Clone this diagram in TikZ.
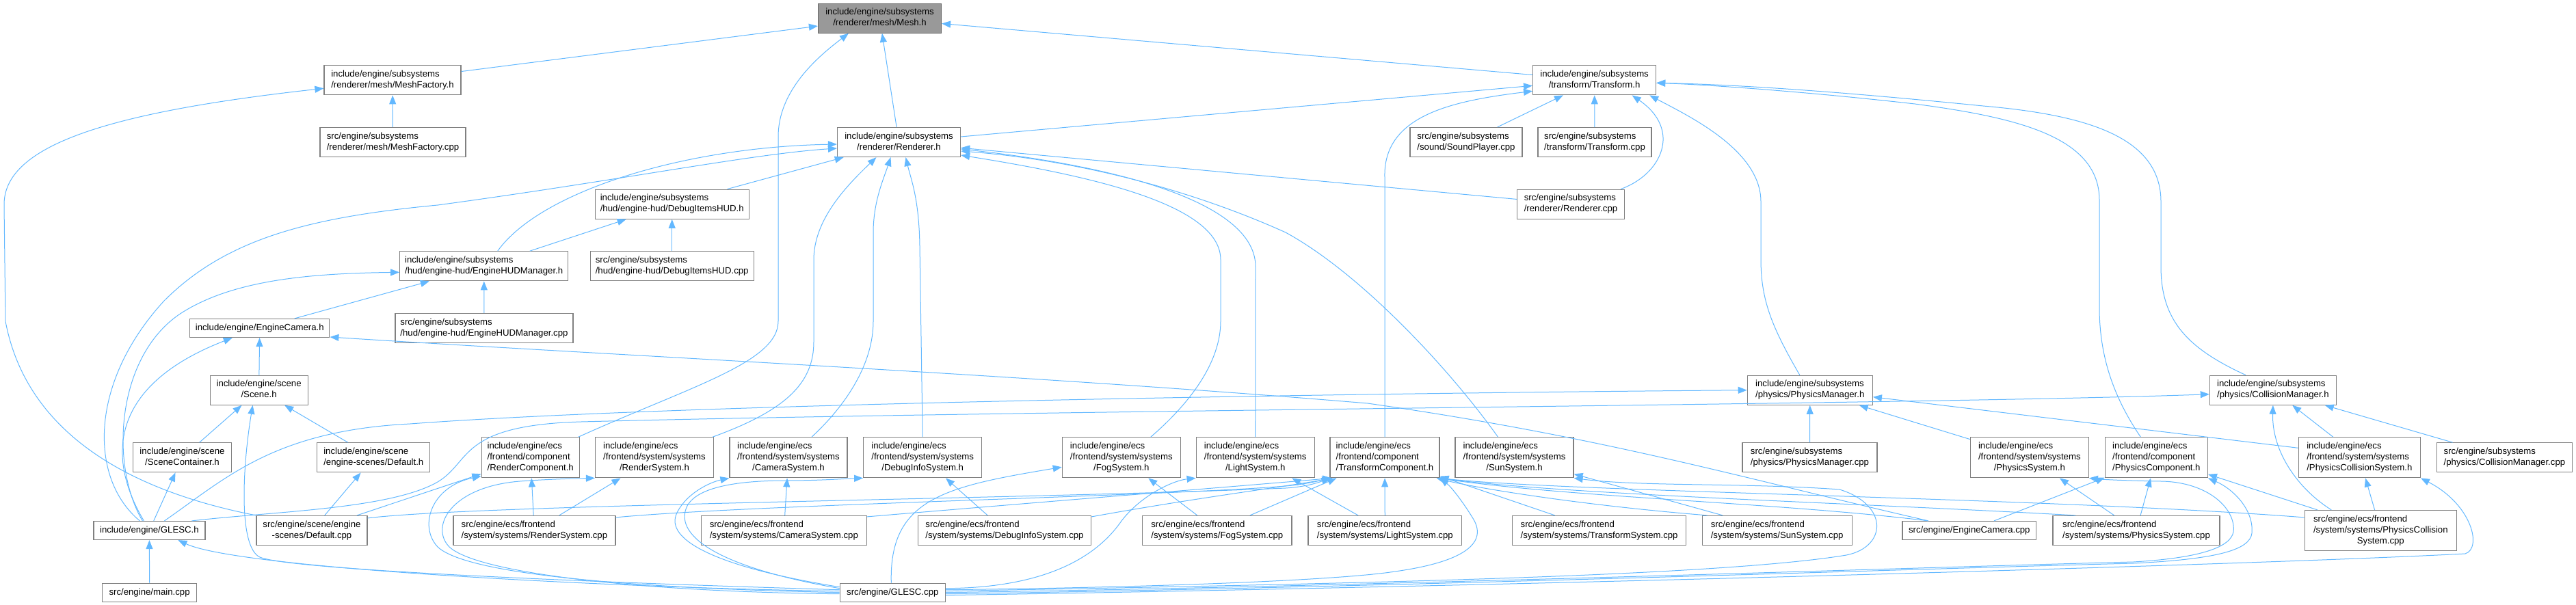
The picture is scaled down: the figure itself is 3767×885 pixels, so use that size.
\documentclass[tikz,border=0pt]{standalone}
\usepackage{fontspec}
\setmainfont{Liberation Sans}
\usepackage{tikz}
\usetikzlibrary{arrows.meta}
\definecolor{depblue}{HTML}{63B8FF}
\definecolor{boxline}{HTML}{808080}
\definecolor{rootgray}{HTML}{999999}
\definecolor{rootline}{HTML}{666666}
% all lines but the last flush left, the last one centred
\newcommand{\dlab}[2]{\begin{tabular}{@{}l@{}}#1\\\multicolumn{1}{@{}c@{}}{#2}\end{tabular}}

\begin{document}
\begin{tikzpicture}[
    x=1pt, y=-1pt,
    file/.style={draw=boxline, fill=white, line width=1.2pt, inner sep=0pt, font=\fontsize{13.2}{16}\selectfont},
    root/.style={file, draw=rootline, fill=rootgray},
    tall1/.style={minimum height=27pt},
    tall2/.style={minimum height=43pt},
    tall3/.style={minimum height=59pt},
    dep/.style={draw=depblue, line width=1pt, -{Triangle[length=13pt,width=10pt]}}
]
    \useasboundingbox (0,0) rectangle (3767,885);

    % Top rows: mesh, renderer, transform
    \node[root, tall2, minimum width=180pt] (mesh) at (1286.5,26.7) {\dlab{include/engine/subsystems}{/renderer/mesh/Mesh.h}};
    \node[file, tall2, minimum width=200pt] (meshfac) at (574,117.3) {\dlab{include/engine/subsystems}{/renderer/mesh/MeshFactory.h}};
    \node[file, tall2, minimum width=180pt] (transform) at (2331.6,117.3) {\dlab{include/engine/subsystems}{/transform/Transform.h}};
    \node[file, tall2, minimum width=213pt] (meshfaccpp) at (574.5,208) {\dlab{src/engine/subsystems}{/renderer/mesh/MeshFactory.cpp}};
    \node[file, tall2, minimum width=180pt] (renderer) at (1314.5,208) {\dlab{include/engine/subsystems}{/renderer/Renderer.h}};
    \node[file, tall2, minimum width=164pt] (soundcpp) at (2144,208) {\dlab{src/engine/subsystems}{/sound/SoundPlayer.cpp}};
    \node[file, tall2, minimum width=166pt] (transformcpp) at (2332,208) {\dlab{src/engine/subsystems}{/transform/Transform.cpp}};
    \node[file, tall2, minimum width=225pt] (debughud) at (982.7,298.7) {\dlab{include/engine/subsystems}{/hud/engine-hud/DebugItemsHUD.h}};
    \node[file, tall2, minimum width=157pt] (renderercpp) at (2297,298.7) {\dlab{src/engine/subsystems}{/renderer/Renderer.cpp}};
    \node[file, tall2, minimum width=246pt] (hudmgr) at (707.7,389.3) {\dlab{include/engine/subsystems}{/hud/engine-hud/EngineHUDManager.h}};
    \node[file, tall2, minimum width=239pt] (debughudcpp) at (982.7,389.3) {\dlab{src/engine/subsystems}{/hud/engine-hud/DebugItemsHUD.cpp}};
    \node[file, tall1, minimum width=204pt] (camera) at (379.8,480) {include/engine/EngineCamera.h};
    \node[file, tall2, minimum width=260pt] (hudmgrcpp) at (708,480) {\dlab{src/engine/subsystems}{/hud/engine-hud/EngineHUDManager.cpp}};

    % Scenes and physics managers
    \node[file, tall2, minimum width=143pt] (scene) at (378.6,570.7) {\dlab{include/engine/scene}{/Scene.h}};
    \node[file, tall2, minimum width=183pt] (physmgr) at (2646.8,570.7) {\dlab{include/engine/subsystems}{/physics/PhysicsManager.h}};
    \node[file, tall2, minimum width=185pt] (collmgr) at (3323.9,570.7) {\dlab{include/engine/subsystems}{/physics/CollisionManager.h}};
    \node[file, tall2, minimum width=144pt] (scenecont) at (266.5,669.3) {\dlab{include/engine/scene}{/SceneContainer.h}};
    \node[file, tall2, minimum width=165pt] (defaulth) at (546.3,669.3) {\dlab{include/engine/scene}{/engine-scenes/Default.h}};
    \node[file, tall2, minimum width=197pt] (physmgrcpp) at (2646.5,669.3) {\dlab{src/engine/subsystems}{/physics/PhysicsManager.cpp}};
    \node[file, tall2, minimum width=198pt] (collmgrcpp) at (3662.4,669.3) {\dlab{src/engine/subsystems}{/physics/CollisionManager.cpp}};

    % ECS headers
    \node[file, tall3, minimum width=143pt] (rendercomp) at (775.7,669.3) {\dlab{include/engine/ecs\\/frontend/component}{/RenderComponent.h}};
    \node[file, tall3, minimum width=173pt] (rendersys) at (957,669.3) {\dlab{include/engine/ecs\\/frontend/system/systems}{/RenderSystem.h}};
    \node[file, tall3, minimum width=172pt] (camerasys) at (1153,669.3) {\dlab{include/engine/ecs\\/frontend/system/systems}{/CameraSystem.h}};
    \node[file, tall3, minimum width=173pt] (debugsys) at (1349.2,669.3) {\dlab{include/engine/ecs\\/frontend/system/systems}{/DebugInfoSystem.h}};
    \node[file, tall3, minimum width=173pt] (fogsys) at (1639.8,669.3) {\dlab{include/engine/ecs\\/frontend/system/systems}{/FogSystem.h}};
    \node[file, tall3, minimum width=173pt] (lightsys) at (1835.7,669.3) {\dlab{include/engine/ecs\\/frontend/system/systems}{/LightSystem.h}};
    \node[file, tall3, minimum width=160pt] (transcomp) at (2025,669.3) {\dlab{include/engine/ecs\\/frontend/component}{/TransformComponent.h}};
    \node[file, tall3, minimum width=173pt] (sunsys) at (2214.5,669.3) {\dlab{include/engine/ecs\\/frontend/system/systems}{/SunSystem.h}};
    \node[file, tall3, minimum width=173pt] (physsys) at (2967.8,669.3) {\dlab{include/engine/ecs\\/frontend/system/systems}{/PhysicsSystem.h}};
    \node[file, tall3, minimum width=150pt] (physcomp) at (3153.3,669.3) {\dlab{include/engine/ecs\\/frontend/component}{/PhysicsComponent.h}};
    \node[file, tall3, minimum width=178pt] (collsys) at (3450.3,669.3) {\dlab{include/engine/ecs\\/frontend/system/systems}{/PhysicsCollisionSystem.h}};

    % Sources
    \node[file, tall1, minimum width=163pt] (glesch) at (218.4,776) {include/engine/GLESC.h};
    \node[file, tall2, minimum width=162pt] (defaultcpp) at (456,776) {\dlab{src/engine/scene/engine}{-scenes/Default.cpp}};
    \node[file, tall2, minimum width=237pt] (rendersyscpp) at (781.4,776) {\dlab{src/engine/ecs/frontend}{/system/systems/RenderSystem.cpp}};
    \node[file, tall2, minimum width=242pt] (camerasyscpp) at (1146.3,776) {\dlab{src/engine/ecs/frontend}{/system/systems/CameraSystem.cpp}};
    \node[file, tall2, minimum width=253.5pt] (debugsyscpp) at (1469,776) {\dlab{src/engine/ecs/frontend}{/system/systems/DebugInfoSystem.cpp}};
    \node[file, tall2, minimum width=218.4pt] (fogsyscpp) at (1779.8,776) {\dlab{src/engine/ecs/frontend}{/system/systems/FogSystem.cpp}};
    \node[file, tall2, minimum width=224.5pt] (lightsyscpp) at (2025.3,776) {\dlab{src/engine/ecs/frontend}{/system/systems/LightSystem.cpp}};
    \node[file, tall2, minimum width=253.5pt] (transsyscpp) at (2338.6,776) {\dlab{src/engine/ecs/frontend}{/system/systems/TransformSystem.cpp}};
    \node[file, tall2, minimum width=219pt] (sunsyscpp) at (2598.6,776) {\dlab{src/engine/ecs/frontend}{/system/systems/SunSystem.cpp}};
    \node[file, tall1, minimum width=195.6pt] (cameracpp) at (2879.8,776) {src/engine/EngineCamera.cpp};
    \node[file, tall2, minimum width=244pt] (physsyscpp) at (3124,776) {\dlab{src/engine/ecs/frontend}{/system/systems/PhysicsSystem.cpp}};
    \node[file, tall3, minimum width=222.4pt] (collsyscpp) at (3481.3,776) {\dlab{src/engine/ecs/frontend\\/system/systems/PhysicsCollision}{System.cpp}};
    \node[file, tall1, minimum width=138pt] (maincpp) at (218.6,866.7) {src/engine/main.cpp};
    \node[file, tall1, minimum width=154pt] (glesccpp) at (1305.3,866.7) {src/engine/GLESC.cpp};

    % Straight includes
    \foreach \a/\b in {meshfac/mesh, renderer/mesh, transform/mesh, meshfaccpp/meshfac,
        renderer/transform, soundcpp/transform, transformcpp/transform, renderercpp/renderer,
        debughud/renderer, debughudcpp/debughud, hudmgr/debughud, hudmgrcpp/hudmgr,
        camera/hudmgr, scene/camera, scenecont/scene, defaulth/scene, glesch/scenecont,
        defaultcpp/defaulth, maincpp/glesch, physmgrcpp/physmgr, physsys/physmgr,
        collsys/collmgr, collmgrcpp/collmgr, physsyscpp/physsys, physsyscpp/physcomp,
        collsyscpp/physcomp, cameracpp/physcomp, collsyscpp/collsys, lightsyscpp/transcomp,
        transsyscpp/transcomp, defaultcpp/rendercomp, rendersyscpp/rendercomp,
        rendersyscpp/rendersys, camerasyscpp/camerasys, debugsyscpp/debugsys,
        fogsyscpp/fogsys, lightsyscpp/lightsys, sunsyscpp/sunsys} {
        \draw[dep] (\a) -- (\b);
    }

    % Mesh.h and MeshFactory.h
    \draw[dep] ([xshift=-2pt]rendercomp.north east) .. controls (1010,565) and (1138,530) .. (1138,470) -- (1138,200) .. controls (1138,130) and (1200,80) .. ([xshift=45pt]mesh.south west);
    \draw[dep] (defaultcpp.north west) .. controls (200,720) and (40,640) .. (8,470) -- (6,300) .. controls (5,215) and (150,165) .. ([yshift=-12pt]meshfac.west);

    % Transform.h
    \draw[dep] (transcomp.north) -- (2025,260) .. controls (2022,170) and (2120,148) .. ([yshift=-16pt]transform.west);
    \draw[dep] ([xshift=-6pt]renderercpp.north east) .. controls (2430,255) and (2460,190) .. ([xshift=55pt]transform.south);
    \draw[dep] ([xshift=-15pt]physmgr.north) .. controls (2592,480) and (2575,440) .. (2575,380) -- (2575,295) .. controls (2575,220) and (2470,170) .. ([xshift=-10pt]transform.south east);
    \draw[dep] ([xshift=-40pt]collmgr.north) .. controls (3200,510) and (3160,470) .. (3160,390) -- (3160,295) .. controls (3160,200) and (3050,168) .. (2900,155) .. controls (2700,135) and (2550,124) .. ([yshift=-4pt]transform.east);
    \draw[dep] ([xshift=-23pt]physcomp.north) .. controls (3090,580) and (3070,520) .. (3070,450) -- (3070,293) .. controls (3070,200) and (2950,172) .. (2800,152) .. controls (2650,135) and (2500,124) .. ([yshift=-4pt]transform.east);

    % Renderer.h
    \draw[dep] ([xshift=-24pt]sunsys.north) .. controls (2120,540) and (1990,400) .. (1880,340) .. controls (1720,268) and (1550,232) .. ([yshift=-13pt]renderer.east);
    \draw[dep] ([xshift=43pt]fogsys.north) .. controls (1740,590) and (1785,530) .. (1785,470) -- (1785,380) .. controls (1785,300) and (1600,258) .. ([yshift=-19pt]renderer.east);
    \draw[dep] (lightsys.north) -- (1836,390) .. controls (1836,300) and (1650,245) .. ([yshift=-10pt]renderer.east);
    \draw[dep] ([xshift=-2pt]rendersys.north east) .. controls (1150,600) and (1190,560) .. (1190,500) -- (1190,380) .. controls (1190,320) and (1240,270) .. ([xshift=-33pt]renderer.south);
    \draw[dep] ([xshift=34pt]camerasys.north) .. controls (1240,590) and (1277,530) .. (1277,470) -- (1277,340) .. controls (1277,295) and (1292,262) .. ([xshift=-12pt]renderer.south);
    \draw[dep] (debugsys.north) -- (1345,360) .. controls (1344,290) and (1332,262) .. ([xshift=10pt]renderer.south);
    \draw[dep] ([xshift=-14pt]glesch.north) .. controls (130,700) and (130,560) .. (240,440) .. controls (330,350) and (450,318) .. (640,300) .. controls (900,265) and (1100,225) .. ([yshift=-9pt]renderer.west);
    \draw[dep] ([xshift=20pt]hudmgr.north) .. controls (790,280) and (1000,215) .. ([yshift=-3pt]renderer.west);

    % EngineHUDManager.h and EngineCamera.h
    \draw[dep] ([xshift=-10pt]glesch.north) .. controls (160,680) and (170,520) .. (265,458) .. controls (340,410) and (450,400) .. ([yshift=-9pt]hudmgr.west);
    \draw[dep] ([xshift=-8pt]glesch.north) .. controls (150,660) and (170,560) .. ([xshift=-40pt]camera.south);
    \draw[dep] ([xshift=-60pt]cameracpp.north) .. controls (2550,700) and (2350,640) .. (2000,590) .. controls (1500,548) and (900,520) .. ([yshift=-13pt]camera.east);

    % Scene.h and GLESC.h
    \draw[dep] ([yshift=4pt]glesccpp.west) .. controls (800,850) and (420,832) .. (380,815) .. controls (348,800) and (355,680) .. ([xshift=-9pt]scene.south);
    \draw[dep] ([yshift=2pt]glesccpp.west) .. controls (900,860) and (350,832) .. ([xshift=42pt]glesch.south);

    % Physics managers
    \draw[dep] ([xshift=22pt]glesch.north) .. controls (330,700) and (400,630) .. (600,620) .. controls (1000,590) and (2000,575) .. (physmgr.west);
    \draw[dep] ([yshift=14pt]collsys.west) -- ([yshift=-10pt]physmgr.east);
    \draw[dep] ([xshift=-20pt]glesch.north east) .. controls (400,748) and (570,745) .. (640,705) .. controls (690,675) and (670,622) .. (850,617) .. controls (1500,600) and (2800,592) .. ([yshift=-6pt]collmgr.west);
    \draw[dep] ([xshift=-72pt]collsyscpp.north) .. controls (3360,715) and (3322,660) .. (collmgr.south);

    % TransformComponent.h
    \draw[dep] ([yshift=-4pt]defaultcpp.north east) .. controls (700,738) and (1500,730) .. (1880,714) .. controls (1912,712) and (1930,705) .. ([xshift=1pt]transcomp.south west);
    \draw[dep] ([yshift=-3pt]rendersyscpp.north east) .. controls (1100,738) and (1700,726) .. (1880,711) .. controls (1912,708) and (1930,703) .. ([xshift=2pt]transcomp.south west);
    \draw[dep] ([yshift=-2pt]camerasyscpp.north east) .. controls (1600,728) and (1850,708) .. ([xshift=3pt]transcomp.south west);
    \draw[dep] ([yshift=-2pt]debugsyscpp.north east) .. controls (1750,728) and (1880,712) .. ([xshift=4pt]transcomp.south west);
    \draw[dep] ([xshift=48pt]fogsyscpp.north) -- ([xshift=10pt]transcomp.south west);
    \draw[dep] ([xshift=8pt]sunsyscpp.north west) .. controls (2300,738) and (2150,712) .. ([xshift=-5pt]transcomp.south east);
    \draw[dep] ([xshift=-60pt]cameracpp.north) .. controls (2600,735) and (2300,728) .. ([xshift=-3pt]transcomp.south east);
    \draw[dep] ([xshift=-89pt]physsyscpp.north) .. controls (2700,735) and (2300,724) .. ([xshift=-2pt]transcomp.south east);
    \draw[dep] ([yshift=-11pt]collsyscpp.north west) .. controls (3000,728) and (2300,720) .. ([xshift=-1pt]transcomp.south east);

    % GLESC.cpp to the ECS headers
    \draw[dep] (glesccpp.west) .. controls (900,860) and (680,838) .. (640,800) .. controls (612,770) and (630,712) .. ([yshift=3pt]rendercomp.south west);
    \draw[dep] ([yshift=-2pt]glesccpp.west) .. controls (950,866) and (700,840) .. (657,800) .. controls (628,770) and (660,712) .. (760,704) .. controls (800,701) and (840,700) .. (rendersys.south west);
    \draw[dep] ([yshift=8pt]glesccpp.west) .. controls (1050,830) and (970,790) .. (990,750) .. controls (1005,720) and (1040,705) .. (camerasys.south west);
    \draw[dep] ([yshift=6pt]glesccpp.west) .. controls (1040,828) and (985,780) .. (1005,740) .. controls (1020,712) and (1080,703) .. (1150,703) .. controls (1200,703) and (1240,700) .. (debugsys.south west);
    \draw[dep] ([xshift=-2pt]glesccpp.north) .. controls (1300,730) and (1380,712) .. ([yshift=-14pt]fogsys.west);
    \draw[dep] ([yshift=6pt]glesccpp.east) .. controls (1520,860) and (1600,820) .. (1640,762) .. controls (1668,725) and (1715,703) .. (lightsys.south west);
    \draw[dep] ([yshift=4pt]glesccpp.east) .. controls (1650,860) and (1950,850) .. (2040,836) .. controls (2140,822) and (2175,795) .. (2155,760) .. controls (2140,735) and (2122,712) .. (transcomp.south east);
    \draw[dep] ([yshift=2pt]glesccpp.east) .. controls (1900,855) and (2500,845) .. (2700,812) .. controls (2760,800) and (2762,738) .. (2690,716) .. controls (2550,706) and (2400,712) .. (sunsys.south east);
    \draw[dep] (glesccpp.east) .. controls (2000,858) and (2800,830) .. (3120,822) .. controls (3220,816) and (3262,800) .. (3266,778) .. controls (3270,745) and (3230,705) .. (3160,704) .. controls (3100,703) and (3070,701) .. (physsys.south east);
    \draw[dep] ([yshift=-2pt]glesccpp.east) .. controls (2000,860) and (2800,832) .. (3120,824) .. controls (3240,818) and (3290,805) .. (3293,780) .. controls (3296,745) and (3265,715) .. (physcomp.south east);
    \draw[dep] ([yshift=-4pt]glesccpp.east) .. controls (2200,858) and (3300,826) .. (3605,810) .. controls (3630,802) and (3615,738) .. (collsys.south east);
\end{tikzpicture}
\end{document}
